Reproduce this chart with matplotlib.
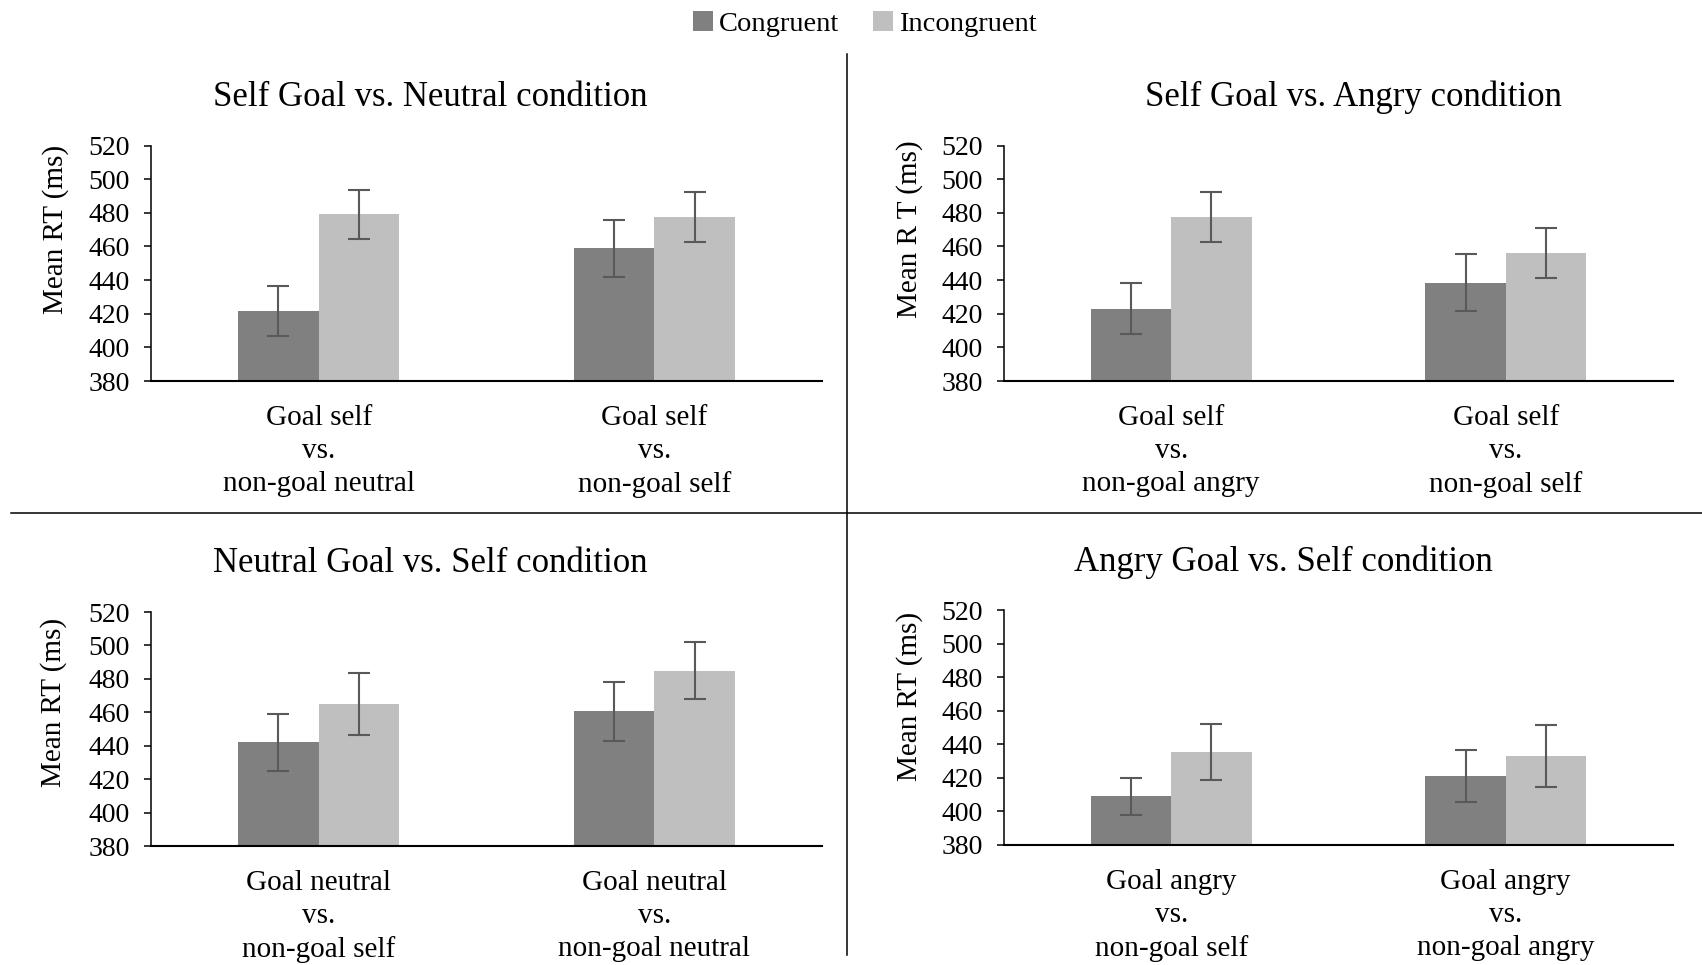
import matplotlib
matplotlib.use("Agg")
import matplotlib.pyplot as plt
from matplotlib.patches import Patch
from matplotlib.lines import Line2D

plt.rcParams['font.family'] = ['Liberation Serif', 'DejaVu Serif']

W, H = 1702, 965

titles = ["Self Goal vs. Neutral condition", "Self Goal vs. Angry condition",
          "Neutral Goal vs. Self condition", "Angry Goal vs. Self condition"]
ylabels = ["Mean RT (ms)", "Mean R T (ms)", "Mean RT (ms)", "Mean RT (ms)"]
categories = [
    ["Goal self\nvs.\nnon-goal neutral", "Goal self\nvs.\nnon-goal self"],
    ["Goal self\nvs.\nnon-goal angry", "Goal self\nvs.\nnon-goal self"],
    ["Goal neutral\nvs.\nnon-goal self", "Goal neutral\nvs.\nnon-goal neutral"],
    ["Goal angry\nvs.\nnon-goal self", "Goal angry\nvs.\nnon-goal angry"],
]
congruent = [[421.5, 459.0], [423.0, 438.5], [442.0, 460.5], [409.0, 421.0]]
congruent_err = [[15.0, 17.0], [15.0, 17.0], [17.0, 17.5], [11.0, 15.5]]
incongruent = [[479.0, 477.5], [477.5, 456.0], [465.0, 485.0], [435.5, 433.0]]
incongruent_err = [[14.5, 15.0], [15.0, 15.0], [18.5, 17.0], [16.5, 18.5]]
series_names = ["Congruent", "Incongruent"]
yticks = [380, 400, 420, 440, 460, 480, 500, 520]

c_cong = "#808080"
c_inc = "#bfbfbf"
c_err = "#595959"

# axes rects in pixels: left, right, top, bottom
rects = [(151, 822, 145.5, 381), (1004, 1673, 145.5, 381),
         (151, 822, 612, 846), (1004, 1673, 610, 845)]
title_pos = [(430, 98), (1353, 97), (430, 564), (1283, 562)]
ylabel_pos = [(56, 229), (910, 229), (54, 702), (910, 696)]

fig = plt.figure(figsize=(W / 100, H / 100), dpi=100)

bw = 0.24
for i in range(4):
    l, r, t, b = rects[i]
    ax = fig.add_axes([l / W, 1 - b / H, (r - l) / W, (b - t) / H])
    x = [0, 1]
    ax.bar([xi - bw / 2 for xi in x], [v - 380 for v in congruent[i]], bw, bottom=380,
           color=c_cong, yerr=congruent_err[i], ecolor=c_err,
           error_kw=dict(capsize=8, elinewidth=1.5, capthick=1.5))
    ax.bar([xi + bw / 2 for xi in x], [v - 380 for v in incongruent[i]], bw, bottom=380,
           color=c_inc, yerr=incongruent_err[i], ecolor=c_err,
           error_kw=dict(capsize=8, elinewidth=1.5, capthick=1.5))
    ax.set_xlim(-0.5, 1.5)
    ax.set_ylim(380, 520)
    ax.set_yticks(yticks)
    ax.set_xticks(x)
    ax.set_xticklabels(categories[i], fontsize=21, linespacing=1.36)
    ax.tick_params(axis='x', length=0, pad=17)
    ax.tick_params(axis='y', length=5.3, width=1.1, pad=10, labelsize=20, direction='out')
    for s in ['top', 'right']:
        ax.spines[s].set_visible(False)
    ax.spines['left'].set_linewidth(1.1)
    ax.spines['bottom'].set_linewidth(1.5)
    fig.text(title_pos[i][0] / W, 1 - title_pos[i][1] / H, titles[i],
             ha='center', va='center', fontsize=25)
    fig.text(ylabel_pos[i][0] / W, 1 - ylabel_pos[i][1] / H, ylabels[i],
             ha='center', va='center', rotation=90, fontsize=21)

# divider lines
fig.add_artist(Line2D([847 / W, 847 / W], [1 - 54 / H, 1 - 955 / H],
                      color='black', lw=1.1, transform=fig.transFigure))
fig.add_artist(Line2D([11 / W, 1.0], [1 - 513 / H, 1 - 513 / H],
                      color='black', lw=1.1, transform=fig.transFigure))

handles = [Patch(facecolor=c_cong, label=series_names[0]),
           Patch(facecolor=c_inc, label=series_names[1])]
fig.legend(handles=handles, loc='center', bbox_to_anchor=(865 / W, 1 - 24 / H),
           ncol=2, frameon=False, fontsize=20.5, handlelength=0.7, handleheight=0.7,
           handletextpad=0.2, columnspacing=1.2)

fig.savefig("out.png", dpi=100)
